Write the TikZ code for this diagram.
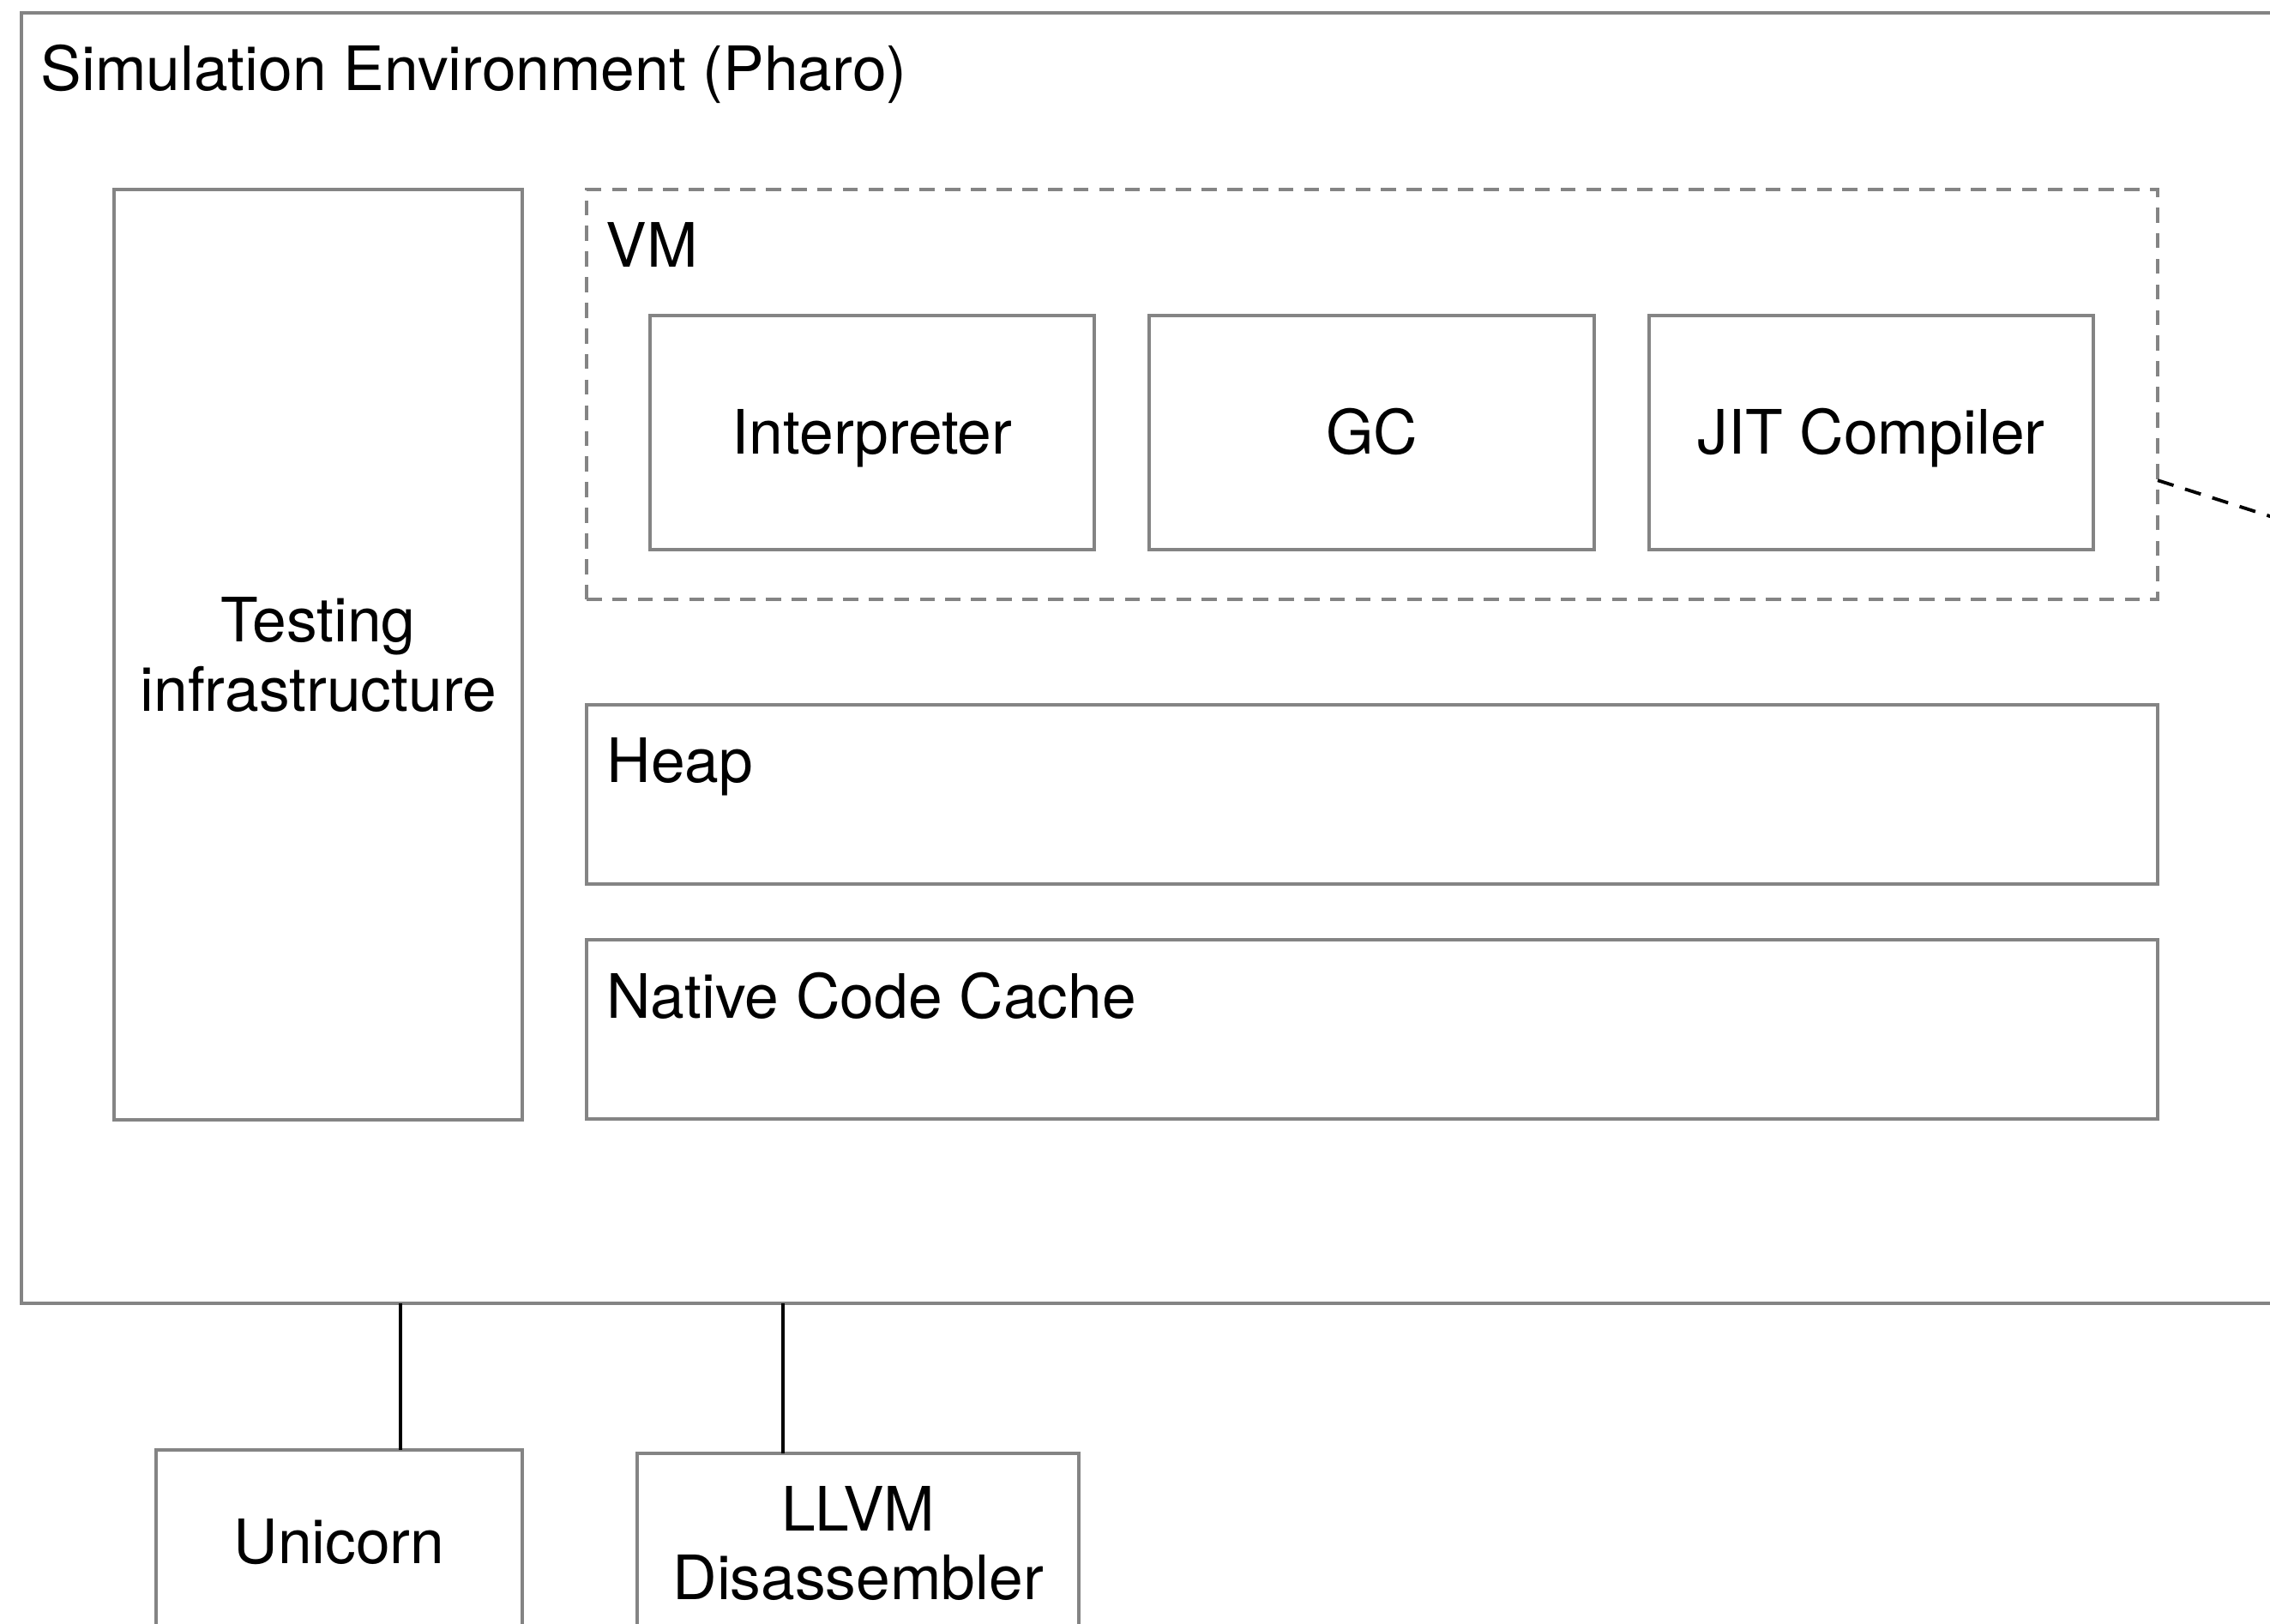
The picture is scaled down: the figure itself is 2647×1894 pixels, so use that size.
\documentclass[tikz,border=0pt]{standalone}
\usepackage{fontspec}
\setmainfont{TeX Gyre Heros}
\definecolor{boxgray}{RGB}{132,132,132}
\tikzset{
  box/.style={draw=boxgray, line width=1.1pt, inner sep=0pt, outer sep=0pt, anchor=north west, align=center},
  oneline/.style={text height=0.5cm, text depth=0pt},
  title/.style={anchor=base west, inner sep=0pt},
  link/.style={line width=1.1pt, black},
}
\begin{document}
\begin{tikzpicture}[x=0.01cm, y=-0.01cm, font=\fontsize{20.3}{23}\selectfont]
		% 1. page size and clip
		\useasboundingbox (0,0) rectangle (2647,1894);
		\clip (0,0) rectangle (2647,1894);
		
		% 2. outer box and left column
		\node[box, minimum width=26.75cm, minimum height=15.04cm] (env) at (25,15) {};
		\node[title] (envtitle) at ([shift={(22,91)}]env.north west) {Simulation Environment (Pharo)};
		\node[box, minimum width=4.76cm, minimum height=10.84cm] (test) at (133,221) {Testing\\infrastructure};
		
		% 3. VM group (dashed)
		\node[box, dashed, dash pattern=on 5pt off 3.5pt, minimum width=18.31cm, minimum height=4.78cm] (vm) at (684,221) {};
		\node[title] (vmtitle) at ([shift={(22,91)}]vm.north west) {VM};
		\node[box, oneline, minimum width=5.18cm, minimum height=2.73cm] (interp) at (758,368) {Interpreter};
		\node[box, oneline, minimum width=5.19cm, minimum height=2.73cm] (gc) at (1340,368) {GC};
		\node[box, oneline, minimum width=5.18cm, minimum height=2.73cm] (jit) at (1923,368) {JIT Compiler};
		
		% 4. memory areas
		\node[box, minimum width=18.31cm, minimum height=2.09cm] (heap) at (684,822) {};
		\node[title] (heaptitle) at ([shift={(23,90)}]heap.north west) {Heap};
		\node[box, minimum width=18.31cm, minimum height=2.09cm] (cache) at (684,1096) {};
		\node[title] (cachetitle) at ([shift={(23,91)}]cache.north west) {Native Code Cache};
		
		% 5. outside libraries
		\node[box, minimum width=4.27cm, minimum height=2.14cm] (uni) at (182,1691) {Unicorn};
		\node[box, minimum width=5.15cm, minimum height=2.10cm] (llvm) at (743,1695) {LLVM\\Disassembler};
		
		% 6. connectors
		\coordinate (out) at (2700,619);
		\draw[link] ([xshift=0.715cm]uni.north) -- ([xshift=0.715cm]uni.north |- env.south);
		\draw[link] ([xshift=-0.88cm]llvm.north) -- ([xshift=-0.88cm]llvm.north |- env.south);
		\draw[link, dash pattern=on 5.5pt off 4pt] ([yshift=-1cm]vm.east) -- (out);
	\end{tikzpicture}
\end{document}
